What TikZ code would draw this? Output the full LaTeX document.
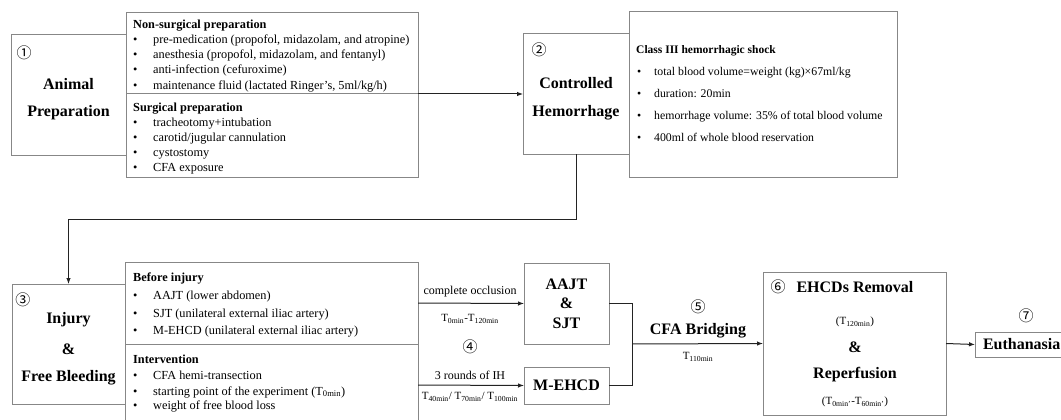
\documentclass[tikz,border=0pt]{standalone}
\usepackage{fontspec}
\setmainfont{Liberation Serif}
\newfontfamily\numfont{Noto Sans CJK SC}
\usetikzlibrary{arrows.meta}
\definecolor{boxgray}{RGB}{135,135,135}
\definecolor{linegray}{RGB}{35,35,35}
\newcommand\bl[1]{\makebox[#1][l]{\textbullet}}
\tikzset{
  box/.style={draw=boxgray, line width=1pt, inner sep=0pt, outer sep=0pt},
  conn/.style={draw=linegray, line width=1pt},
  arr/.style={conn, -{Latex[length=6pt,width=4.5pt]}},
  big/.style={font=\fontsize{16}{19.5}\selectfont\bfseries, inner sep=0pt},
  num/.style={font=\numfont\fontsize{15}{17}\selectfont, inner sep=0pt},
  txt/.style={font=\fontsize{12.3}{14}\selectfont, inner sep=0pt, anchor=base west},
  ctxt/.style={txt, font=\fontsize{11.8}{14}\selectfont},
  hd/.style={txt, font=\fontsize{12.3}{14}\selectfont\bfseries},
  lab/.style={font=\fontsize{12}{14}\selectfont, inner sep=0pt},
  sub/.style={font=\fontsize{11}{13}\selectfont, inner sep=0pt},
}
\begin{document}
\begin{tikzpicture}[x=1pt,y=-1pt]
\useasboundingbox (0,0) rectangle (1061,420);
\clip (0,0) rectangle (1061,420);
\fill[white] (0,0) rectangle (1061,420);

% ---- Box 1
\node[box, minimum width=115pt, minimum height=120pt] (b1) at (68.5,95) {};
\node[num] (n1) at (24,53) {①};
\node[big] (t1a) at (68.5,84) {Animal};
\node[big] (t1b) at (68.5,113) {Preparation};

% ---- Preparation box
\node[box, minimum width=292pt, minimum height=81pt] (prepTop) at (272,53.5) {};
\node[box, minimum width=292pt, minimum height=83pt] (prepBot) at (272,135.5) {};
\node[hd] (p0) at (133,29) {Non-surgical preparation};
\node[txt] (p1) at (133,44) {\bl{20pt}pre-medication (propofol, midazolam, and atropine)};
\node[txt] (p2) at (133,59) {\bl{20pt}anesthesia (propofol, midazolam, and fentanyl)};
\node[txt] (p3) at (133,74) {\bl{20pt}anti-infection (cefuroxime)};
\node[txt] (p4) at (133,89) {\bl{20pt}maintenance fluid (lactated Ringer's, 5ml/kg/h)};
\node[hd] (s0) at (133,111) {Surgical preparation};
\node[txt] (s1) at (133,126) {\bl{20pt}tracheotomy+intubation};
\node[txt] (s2) at (133,141) {\bl{20pt}carotid/jugular cannulation};
\node[txt] (s3) at (133,156) {\bl{20pt}cystostomy};
\node[txt] (s4) at (133,171) {\bl{20pt}CFA exposure};

% ---- Box 2
\node[box, minimum width=106pt, minimum height=120pt] (b2) at (576,94) {};
\node[num] (n2) at (539,50) {②};
\node[big] (t2a) at (576,83) {Controlled};
\node[big] (t2b) at (576,113) {Hemorrhage};

% ---- Class III box
\node[box, minimum width=268pt, minimum height=165pt] (cls) at (763,94.5) {};
\node[hd, font=\fontsize{11.5}{14}\selectfont\bfseries] (c0) at (636,54) {Class III hemorrhagic shock};
\node[ctxt] (c1) at (637,76) {\bl{17pt}total blood volume=weight (kg)×67ml/kg};
\node[ctxt] (c2) at (637,98) {\bl{17pt}duration: 20min};
\node[ctxt] (c3) at (637,120) {\bl{17pt}hemorrhage volume: 35\% of total blood volume};
\node[ctxt] (c4) at (637,142) {\bl{17pt}400ml of whole blood reservation};

% ---- Box 3
\node[box, minimum width=113pt, minimum height=120pt] (b3) at (68.5,344) {};
\node[num] (n3) at (23,300) {③};
\node[big] (t3a) at (68.5,320) {Injury};
\node[big] (t3b) at (68.5,349) {\&};
\node[big] (t3c) at (68.5,378) {Free Bleeding};

% ---- Injury info box
\node[box, minimum width=293pt, minimum height=82pt] (injTop) at (271.5,303) {};
\node[box, minimum width=293pt, minimum height=82pt] (injBot) at (271.5,385) {};
\node[hd] (i0) at (133,281) {Before injury};
\node[txt] (i1) at (133,299) {\bl{20pt}AAJT (lower abdomen)};
\node[txt] (i2) at (133,317) {\bl{20pt}SJT (unilateral external iliac artery)};
\node[txt] (i3) at (133,334) {\bl{20pt}M-EHCD (unilateral external iliac artery)};
\node[hd] (v0) at (133,363) {Intervention};
\node[txt] (v1) at (133,379) {\bl{20pt}CFA hemi-transection};
\node[txt] (v2) at (133,395) {\bl{20pt}starting point of the experiment (T\textsubscript{0min})};
\node[txt] (v3) at (133,409) {\bl{20pt}weight of free blood loss};

% ---- AAJT & SJT / M-EHCD
\node[box, big, minimum width=85pt, minimum height=81pt, align=center] (aajt) at (566.5,303.5) {AAJT\\\&\\SJT};
\node[box, big, minimum width=85pt, minimum height=37pt] (mehcd) at (566.5,385.5) {M-EHCD};
\node[lab] (l1) at (470,292) {complete occlusion};
\node[sub] (l2) at (470,319) {T\textsubscript{0min}-T\textsubscript{120min}};
\node[num] (n4) at (470,347) {④};
\node[lab] (l3) at (470,375) {3 rounds of IH};
\node[sub] (l4) at (470,397) {T\textsubscript{40min}/ T\textsubscript{70min}/ T\textsubscript{100min}};

% ---- Box 6
\node[box, minimum width=183pt, minimum height=143pt] (b6) at (854.5,343.5) {};
\node[num] (n6) at (778,287) {⑥};
\node[big] (t6a) at (855,287) {EHCDs Removal};
\node[sub] (t6b) at (855,322) {(T\textsubscript{120min})};
\node[big] (t6c) at (855,347) {\&};
\node[big] (t6d) at (855,375) {Reperfusion};
\node[sub] (t6e) at (855,402) {(T\textsubscript{0min'}-T\textsubscript{60min'})};

% ---- CFA bridging labels
\coordinate (j) at (632,344);
\node[num] (n5) at (698,307) {⑤};
\node[big] (t5) at (698,331) {CFA Bridging};
\node[sub] (t5b) at (698,357) {T\textsubscript{110min}};

% ---- Euthanasia
\node[box, big, anchor=west, minimum height=25pt, inner xsep=8pt] (eu) at (975,344.5) {Euthanasia};
\node[num] (n7) at (1026,316) {⑦};

% ---- connectors
\draw[arr] (prepTop.south east) -- (b2.west);
\draw[arr] (b2.south) -- ++(0,65) -| (b3.north);
\draw[arr] (injTop.east) -- (aajt.west);
\draw[arr] (injBot.east) -- (mehcd.west);
\draw[conn] (aajt.east) -| (j);
\draw[conn] (mehcd.east) -| (j);
\draw[arr] (j) -- (b6.west);
\draw[arr] (b6.east) -- (eu.west);
\end{tikzpicture}
\end{document}
